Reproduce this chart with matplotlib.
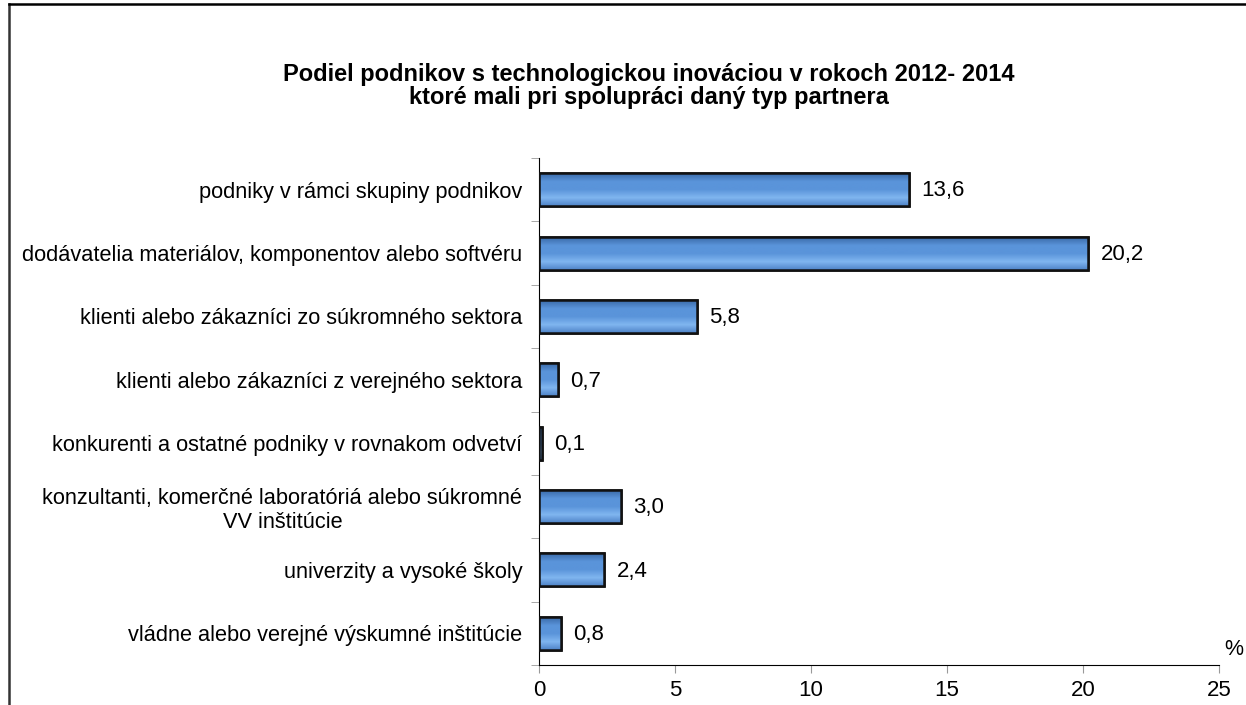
import numpy as np
import matplotlib.pyplot as plt
from matplotlib.lines import Line2D
from matplotlib.colors import LinearSegmentedColormap

plt.rcParams['font.family'] = ['Liberation Sans', 'DejaVu Sans']

kategorie = ['podniky v rámci skupiny podnikov',
             'dodávatelia materiálov, komponentov alebo softvéru',
             'klienti alebo zákazníci zo súkromného sektora',
             'klienti alebo zákazníci z verejného sektora',
             'konkurenti a ostatné podniky v rovnakom odvetví',
             'konzultanti, komerčné laboratóriá alebo súkromné\nVV inštitúcie',
             'univerzity a vysoké školy',
             'vládne alebo verejné výskumné inštitúcie']
hodnoty = [13.6, 20.2, 5.8, 0.7, 0.1, 3.0, 2.4, 0.8]
popisky = ['13,6', '20,2', '5,8', '0,7', '0,1', '3,0', '2,4', '0,8']
xticky = [0, 5, 10, 15, 20, 25]

fig = plt.figure(figsize=(12.46, 7.05), dpi=100)
ax = fig.add_axes([0.4326, 0.0567, 0.5457, 0.7192])

y = np.arange(len(kategorie))
bary = ax.barh(y, hodnoty, height=0.52, color='#5a94da', edgecolor='#111111', linewidth=1.8, zorder=2)

# prechod farby v kazdom stlpci (efekt skosenia)
cmap = LinearSegmentedColormap.from_list('bev', ['#3a6aa8', '#5a94da', '#5a94da', '#80b6f0', '#4f84c8'])
grad = np.linspace(0, 1, 64).reshape(-1, 1)
for b in bary:
    x0, y0 = b.get_x(), b.get_y()
    w, h = b.get_width(), b.get_height()
    im = ax.imshow(grad, cmap=cmap, aspect='auto', extent=(x0, x0 + w, y0 + h, y0),
                   origin='upper', zorder=2.5)
    im.set_clip_path(b)
    ax.add_patch(plt.Rectangle((x0, y0), w, h, fill=False, edgecolor='#111111', linewidth=1.8, zorder=3))

for i, v in enumerate(hodnoty):
    ax.text(v + 0.45, i + 0.02, popisky[i], va='center', ha='left', fontsize=16)

ax.set_xlim(0, 25)
ax.set_ylim(len(kategorie) - 0.5, -0.5)
ax.set_xticks(xticky)
ax.set_xticklabels([str(t) for t in xticky], fontsize=16)
ax.set_yticks(y)
ax.set_yticklabels(kategorie, fontsize=15.7)
ax.tick_params(axis='y', length=0, pad=12)
ax.set_yticks(np.arange(len(kategorie) + 1) - 0.5, minor=True)
ax.tick_params(axis='y', which='minor', length=6, color='#999999', direction='out')
ax.tick_params(axis='x', length=6, color='#999999', direction='out', pad=5)
for lbl in ax.get_yticklabels():
    lbl.set_multialignment('center')

ax.spines['top'].set_visible(False)
ax.spines['right'].set_visible(False)
ax.spines['left'].set_color('black')
ax.spines['bottom'].set_color('black')

ax.text(1.008, 0.01, '%', transform=ax.transAxes, fontsize=15.5, ha='left', va='bottom')

fig.text(0.521, 0.878, 'Podiel podnikov s technologickou inováciou v rokoch 2012- 2014\nktoré mali pri spolupráci daný typ partnera',
         ha='center', va='center', fontsize=17, fontweight='bold', linespacing=1.0)

# ram okolo grafu
fig.add_artist(Line2D([0.0072, 0.0072], [0, 0.9943], color='#333333', lw=1.8, transform=fig.transFigure))
fig.add_artist(Line2D([0.0072, 1.0], [0.9943, 0.9943], color='black', lw=1.8, transform=fig.transFigure))

fig.savefig('out.png', dpi=100)
